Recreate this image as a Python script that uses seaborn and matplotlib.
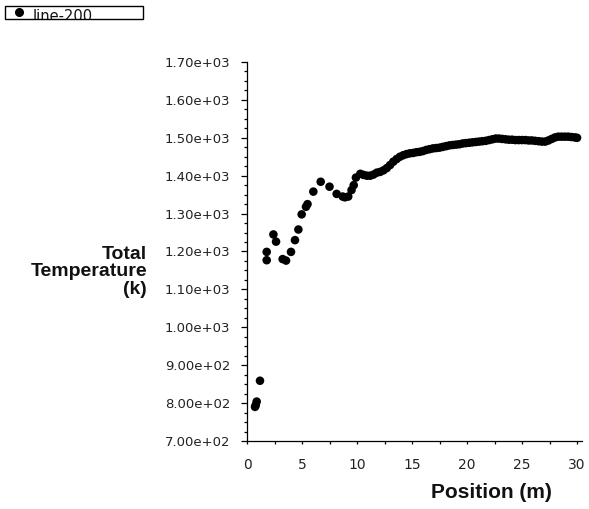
import matplotlib
matplotlib.use("Agg")
import matplotlib.pyplot as plt
import matplotlib.ticker as mticker
from matplotlib.patches import Rectangle
from matplotlib.lines import Line2D
import seaborn as sns
import pandas as pd

position = [0.73, 0.80, 0.88, 1.18, 1.79, 1.79, 2.40, 2.64, 3.24, 3.55, 4.00, 4.36, 4.67,
            4.97, 5.36, 5.50, 6.03, 6.70, 7.50, 8.15, 8.70, 8.90, 9.20, 9.50, 9.70, 9.90,
            10.3, 10.6, 10.9, 11.2, 11.5, 11.8, 12.1, 12.4, 12.7, 13.0, 13.3, 13.6, 13.9,
            14.2, 14.5, 14.8, 15.1, 15.4, 15.7, 16.0, 16.3, 16.6, 16.9, 17.2, 17.5, 17.8,
            18.1, 18.4, 18.7, 19.0, 19.3, 19.6, 19.9, 20.2, 20.5, 20.8, 21.1, 21.4, 21.7,
            22.0, 22.3, 22.6, 22.9, 23.2, 23.5, 23.8, 24.1, 24.4, 24.7, 25.0, 25.3, 25.6,
            25.9, 26.2, 26.5, 26.8, 27.1, 27.4, 27.7, 28.0, 28.3, 28.6, 28.9, 29.2, 29.5,
            29.8, 30.0]
temperature = [790, 795, 804, 859, 1177, 1199, 1245, 1226, 1180, 1176, 1199, 1230, 1258,
               1298, 1318, 1325, 1358, 1384, 1371, 1352, 1345, 1343, 1345, 1362, 1375, 1395,
               1405, 1402, 1400, 1400, 1403, 1408, 1410, 1414, 1420, 1428, 1437, 1444, 1450,
               1454, 1457, 1459, 1460, 1462, 1463, 1465, 1468, 1470, 1472, 1473, 1474, 1476,
               1478, 1480, 1481, 1482, 1483, 1485, 1486, 1487, 1488, 1489, 1490, 1491, 1492,
               1494, 1496, 1498, 1498, 1497, 1496, 1495, 1495, 1494, 1494, 1494, 1494, 1493,
               1493, 1492, 1491, 1490, 1490, 1493, 1497, 1501, 1503, 1503, 1503, 1503, 1502,
               1501, 1500]
series_name = "line-200"

df = pd.DataFrame({"Position (m)": position, "Total Temperature (k)": temperature})

sns.set_style("white")
plt.rcParams["font.family"] = ["DejaVu Sans"]

W, H = 589, 509
fig = plt.figure(figsize=(W / 100, H / 100), dpi=100)
ax = fig.add_axes([247 / W, 1 - 441 / H, 335 / W, 379 / H])

sns.scatterplot(data=df, x="Position (m)", y="Total Temperature (k)", ax=ax,
                color="black", s=38, edgecolor="none", linewidth=0, legend=False)

ax.set_xlim(0, 30.45)
ax.set_ylim(700, 1700)
ax.xaxis.set_major_locator(mticker.MultipleLocator(5))
ax.xaxis.set_minor_locator(mticker.MultipleLocator(2.5))
ax.yaxis.set_major_locator(mticker.MultipleLocator(100))
ax.yaxis.set_minor_locator(mticker.MultipleLocator(25))
ax.yaxis.set_major_formatter(mticker.FormatStrFormatter("%.2e"))
ax.xaxis.set_major_formatter(mticker.FormatStrFormatter("%d"))

for s in ["top", "right"]:
    ax.spines[s].set_visible(False)
for s in ["left", "bottom"]:
    ax.spines[s].set_color("black")
    ax.spines[s].set_linewidth(0.9)

ax.tick_params(axis="y", which="major", direction="out", length=4, width=0.9,
               color="black", labelsize=9.5, pad=8, labelcolor="#222222")
ax.tick_params(axis="y", which="minor", direction="out", length=2.5, width=0.9, color="black")
ax.tick_params(axis="x", which="major", direction="out", length=2.5, width=0.9,
               color="black", labelsize=10, pad=10, labelcolor="#222222")
ax.tick_params(axis="x", which="minor", direction="out", length=2, width=0.9, color="black")
ax.tick_params(left=True, bottom=True, which="both")

ax.set_xlabel("")
ax.set_ylabel("")

fig.text(147 / W, 1 - 272 / H, "Total\nTemperature\n(k)", ha="right", va="center",
         multialignment="right", fontsize=14, fontweight="bold",
         family="Liberation Sans", linespacing=1.05, color="#111111")
fig.text(491 / W, 1 - 493 / H, "Position (m)", ha="center", va="center",
         fontsize=15, fontweight="bold", family="Liberation Sans", color="#111111")

# legend box (top-left, text clipped at the bottom as in the original)
rect = Rectangle((5 / W, 1 - 19 / H), 138 / W, 13 / H, transform=fig.transFigure,
                 fill=False, edgecolor="black", linewidth=1.0)
fig.add_artist(rect)
fig.add_artist(Line2D([19 / W], [1 - 12 / H], transform=fig.transFigure,
                      marker="o", color="black", markersize=5.5, linestyle="none"))
t = fig.text(33 / W, 1 - 21 / H, series_name, ha="left", va="baseline",
             fontsize=10.5, family="DejaVu Sans", color="#111111")
clip = Rectangle((5 / W, 1 - 19 / H), 138 / W, 13 / H, transform=fig.transFigure)
t.set_clip_path(clip)

fig.savefig("out.png", dpi=100)
